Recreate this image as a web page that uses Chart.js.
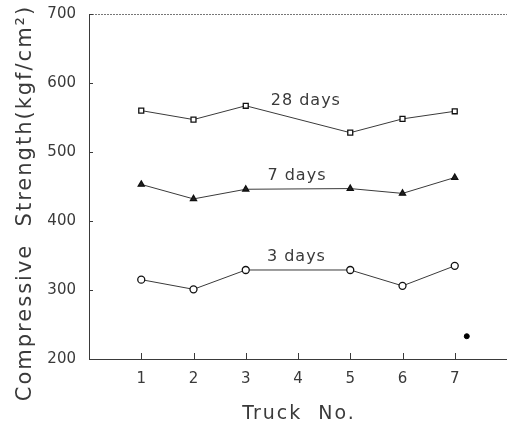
<!DOCTYPE html>
<html>
<head>
<meta charset="utf-8">
<script src="https://cdn.jsdelivr.net/npm/chart.js@4.4.0/dist/chart.umd.min.js"></script>
<style>
  html, body { margin: 0; padding: 0; background: #fff; overflow: hidden; }
  #wrap { width: 507px; height: 424px; position: relative; }
  canvas { display: block; }
</style>
</head>
<body>
<div id="wrap"><canvas id="strengthChart"></canvas></div>
<script>
// truck numbers that were tested (no sample for truck 4)
const trucks = [1, 2, 3, 5, 6, 7];
const xTicks = [1, 2, 3, 4, 5, 6, 7];
const yTicks = [200, 300, 400, 500, 600, 700];

const days28 = [560, 547, 567, 528, 548, 559];
const days7 = [453, 432, 446, 447, 440, 463];
const days3 = [315, 301, 329, 329, 306, 335];

const seriesNames = ['28 days', '7 days', '3 days'];
// speck on the original print, bottom right
const stray = [{ x: 7.23, y: 233 }];

const ink = '#3a3a3a';

function pts(vals) {
  return trucks.map((t, i) => ({ x: t, y: vals[i] }));
}

const textPlugin = {
  id: 'textPlugin',
  afterDraw(chart) {
    const { ctx, chartArea, scales } = chart;
    const xs = scales.x, ys = scales.y;
    ctx.save();
    ctx.strokeStyle = '#777';
    ctx.lineWidth = 1;
    // top frame line
    ctx.setLineDash([2, 1]);
    ctx.beginPath();
    ctx.moveTo(chartArea.left, chartArea.top + 0.5);
    ctx.lineTo(chartArea.right, chartArea.top + 0.5);
    ctx.stroke();
    ctx.setLineDash([]);
    // inward tick marks
    ctx.strokeStyle = ink;
    xTicks.forEach(v => {
      const px = Math.round(xs.getPixelForValue(v)) + 0.5;
      ctx.beginPath();
      ctx.moveTo(px, chartArea.bottom);
      ctx.lineTo(px, chartArea.bottom - 6);
      ctx.stroke();
    });
    yTicks.forEach(v => {
      const py = Math.round(ys.getPixelForValue(v)) + 0.5;
      ctx.beginPath();
      ctx.moveTo(chartArea.left, py);
      ctx.lineTo(chartArea.left + 4, py);
      ctx.stroke();
    });

    ctx.fillStyle = ink;
    ctx.textAlign = 'center';
    ctx.textBaseline = 'middle';
    // series labels
    const anchors = [[4.15, 574], [3.98, 465], [3.97, 348]];
    ctx.font = '16px "DejaVu Sans"';
    ctx.letterSpacing = '1px';
    seriesNames.forEach((name, i) => {
      ctx.fillText(name, xs.getPixelForValue(anchors[i][0]), ys.getPixelForValue(anchors[i][1]));
    });
    // axis titles
    ctx.font = '19px "DejaVu Sans"';
    ctx.letterSpacing = '2px';
    ctx.fillText('Truck  No.', 299, 414);
    ctx.translate(26, 203);
    ctx.rotate(-Math.PI / 2);
    ctx.font = '21px "DejaVu Sans"';
    ctx.letterSpacing = '2px';
    ctx.fillText('Compressive  Strength(kgf/cm²)', 0, 0);
    ctx.restore();
  }
};

const lineStyle = {
  borderColor: ink,
  borderWidth: 1,
  pointRadius: 3.5,
  pointBorderWidth: 1.3,
  pointBorderColor: '#111',
  showLine: true,
  tension: 0
};

new Chart(document.getElementById('strengthChart'), {
  type: 'scatter',
  data: {
    datasets: [
      { ...lineStyle, label: seriesNames[0], data: pts(days28), pointStyle: 'rect', pointBackgroundColor: '#fff' },
      { ...lineStyle, label: seriesNames[1], data: pts(days7), pointStyle: 'triangle', pointBackgroundColor: '#222' },
      { ...lineStyle, label: seriesNames[2], data: pts(days3), pointStyle: 'circle', pointBackgroundColor: '#fff' },
      { label: 'speck', data: stray, showLine: false, pointRadius: 2.5, pointBackgroundColor: '#000', pointBorderColor: '#000' }
    ]
  },
  options: {
    responsive: true,
    maintainAspectRatio: false,
    animation: false,
    layout: { autoPadding: false, padding: { top: 14, right: 0, left: 0, bottom: 0 } },
    plugins: { legend: { display: false }, tooltip: { enabled: false } },
    scales: {
      x: {
        type: 'linear',
        min: 0,
        max: 8,
        afterBuildTicks: s => { s.ticks = xTicks.map(v => ({ value: v })); },
        afterFit: s => { s.height = 65; s.paddingLeft = 0; s.paddingRight = 0; },
        grid: { display: false, drawTicks: false },
        border: { display: true, color: ink, width: 1 },
        ticks: { padding: 11, color: ink, font: { family: 'DejaVu Sans', size: 15 }, maxRotation: 0 }
      },
      y: {
        min: 200,
        max: 700,
        afterBuildTicks: s => { s.ticks = yTicks.map(v => ({ value: v })); },
        afterFit: s => { s.width = 89; s.paddingTop = 0; s.paddingBottom = 0; },
        grid: { display: false, drawTicks: false },
        border: { display: true, color: ink, width: 1 },
        ticks: { padding: 13, color: ink, font: { family: 'DejaVu Sans', size: 15 } }
      }
    }
  },
  plugins: [textPlugin]
});
</script>
</body>
</html>
